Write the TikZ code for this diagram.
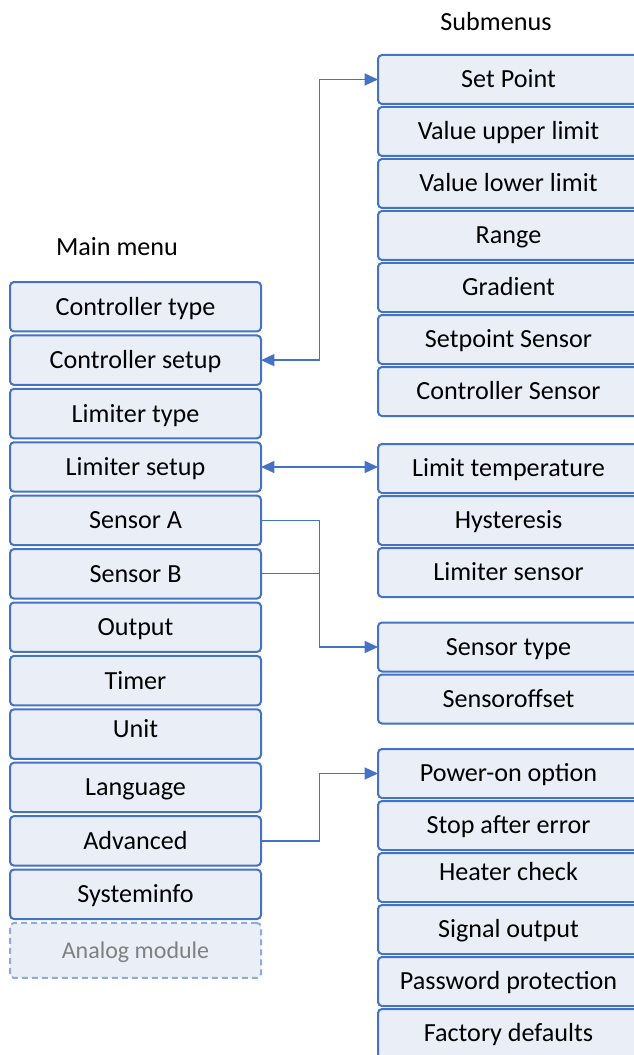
\documentclass[tikz,border=0pt]{standalone}
\usepackage{fontspec}
\setmainfont{Carlito}
\usetikzlibrary{positioning,arrows.meta}
\definecolor{menuline}{HTML}{4472C4}
\definecolor{menufill}{HTML}{EAEFF7}
\definecolor{optline}{HTML}{8FAADC}
\definecolor{opttext}{HTML}{808080}
\tikzset{
  menubox/.style={draw=menuline, fill=menufill, line width=1.5pt, rounded corners=3pt,
    minimum width=188.25pt, minimum height=37.1pt, inner sep=0pt, outer sep=0pt,
    text height=12.7pt, text depth=0pt, font=\fontsize{19.6}{23}\selectfont},
  subbox/.style={menubox, minimum width=195.75pt, minimum height=36.75pt},
  optbox/.style={menubox, draw=optline, dash pattern=on 4.5pt off 3pt, text=opttext,
    minimum height=41.25pt, text height=11.6pt, font=\fontsize{18}{22}\selectfont},
  raised/.style={text depth=7.5pt}, % text sits higher in these boxes
  title/.style={font=\fontsize{19.6}{23}\selectfont, inner sep=0pt},
  link/.style={draw=menuline, line width=1pt},
  oneway/.style={link, -{Triangle[length=10pt,width=9pt]}},
  twoway/.style={link, {Triangle[length=10pt,width=9pt]}-{Triangle[length=10pt,width=9pt]}}
}
\begin{document}
\begin{tikzpicture}[x=0.75pt,y=-0.75pt]
\path[use as bounding box, clip] (0,0) rectangle (634,1055);
%\draw [help lines] (0,0) grid (634,1055);
\node[title] (mainlabel) at (117,247) {Main menu};
\node[title] (sublabel) at (496,22) {Submenus};
% main menu
\begin{scope}[node distance=2.96pt]
\node[menubox] (ctype) at (135.5,306.75) {Controller type};
\node[menubox, below=of ctype] (csetup) {Controller setup};
\node[menubox, below=of csetup] (ltype) {Limiter type};
\node[menubox, below=of ltype] (lsetup) {Limiter setup};
\node[menubox, below=of lsetup] (sensa) {Sensor A};
\node[menubox, below=of sensa] (sensb) {Sensor B};
\node[menubox, below=of sensb] (output) {Output};
\node[menubox, below=of output] (timer) {Timer};
\node[menubox, raised, below=of timer] (unit) {Unit};
\node[menubox, below=of unit] (lang) {Language};
\node[menubox, below=of lang] (adv) {Advanced};
\node[menubox, below=of adv] (sysinfo) {Systeminfo};
\node[optbox, below=of sysinfo] (analog) {Analog module};
\end{scope}
% submenus
\begin{scope}[node distance=2.25pt]
\node[subbox] (setpoint) at (508.5,79.5) {Set Point};
\node[subbox, below=of setpoint] (vupper) {Value upper limit};
\node[subbox, below=of vupper] (vlower) {Value lower limit};
\node[subbox, below=of vlower] (range) {Range};
\node[subbox, below=of range] (gradient) {Gradient};
\node[subbox, below=of gradient] (spsensor) {Setpoint Sensor};
\node[subbox, below=of spsensor] (csensor) {Controller Sensor};
\node[subbox] (limtemp) at (508.5,468.5) {Limit temperature};
\node[subbox, below=of limtemp] (hyst) {Hysteresis};
\node[subbox, below=of hyst] (lsensor) {Limiter sensor};
\node[subbox] (senstype) at (508.5,647) {Sensor type};
\node[subbox, below=of senstype] (sensoff) {Sensoroffset};
\node[subbox] (poweron) at (508.5,773.5) {Power-on option};
\node[subbox, below=of poweron] (stoperr) {Stop after error};
\node[subbox, raised, below=of stoperr] (heater) {Heater check};
\node[subbox, below=of heater] (signal) {Signal output};
\node[subbox, below=of signal] (passwd) {Password protection};
\node[subbox, below=of passwd] (factory) {Factory defaults};
\end{scope}
% connectors
\coordinate (bus) at (319.5,0);
\draw[twoway] (csetup.east) -- (csetup.east -| bus) |- (setpoint.west);
\draw[twoway] (lsetup.east) -- (lsetup.east -| limtemp.west);
\draw[link] (sensb.east) -- (sensb.east -| bus);
\draw[oneway] (sensa.east) -- (sensa.east -| bus) |- (senstype.west);
\draw[oneway] (adv.east) -- (adv.east -| bus) |- (poweron.west);
\end{tikzpicture}
\end{document}
